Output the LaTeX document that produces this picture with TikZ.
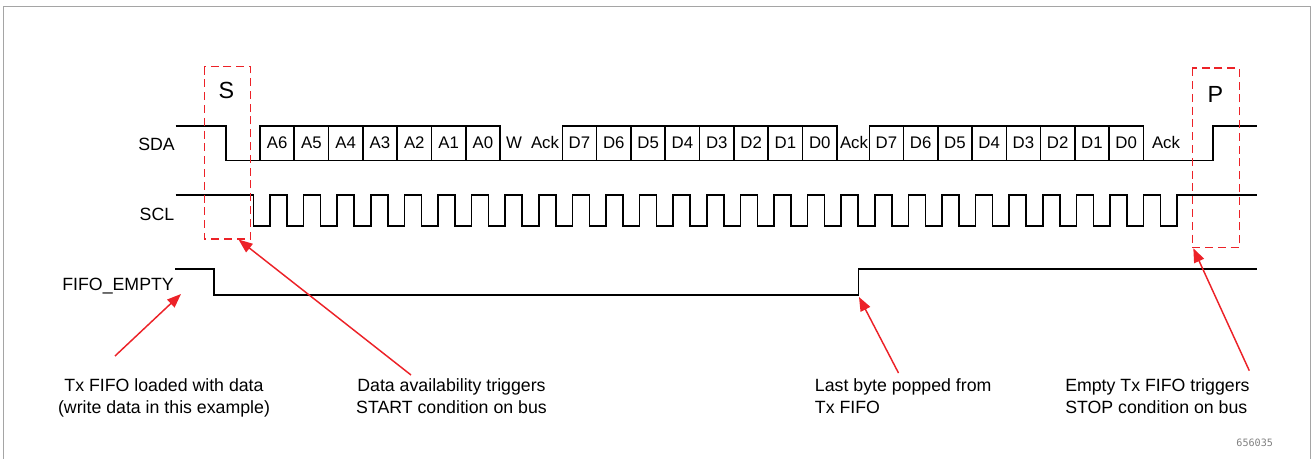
\documentclass[tikz,border=0pt]{standalone}
\usepackage{fontspec}
\setmainfont{Liberation Sans}
\newfontfamily\idfont{DejaVu Sans Mono}
\usetikzlibrary{arrows.meta}
\definecolor{calloutred}{RGB}{236,34,40}
\definecolor{framegray}{RGB}{165,165,165}

\begin{document}
\begin{tikzpicture}[x=0.75pt, y=-0.75pt,
    sig/.style={line width=1.2pt, line join=miter},
    window/.style={draw=calloutred, line width=1.2pt, dash pattern=on 6pt off 3.6pt},
    callout/.style={draw=calloutred, line width=1.1pt, -{Triangle[length=10.5pt, width=8pt]}, fill=calloutred},
    siglabel/.style={font=\fontsize{13.3}{16}\selectfont, inner sep=0pt, anchor=base east},
    bitlabel/.style={font=\fontsize{12.6}{15}\selectfont, inner sep=0pt, anchor=base},
    condlabel/.style={font=\fontsize{17.5}{21}\selectfont, inner sep=0pt, anchor=base},
    note/.style={font=\fontsize{13.3}{16.2}\selectfont, inner sep=0pt}
]
\useasboundingbox (0,0) rectangle (1314,459);
\draw[framegray, line width=0.9pt] (3.5,459) -- (3.5,6.5) -- (1310.5,6.5) -- (1310.5,459);

% --- signal names ---
\node (sda) [siglabel] at (175,150.7) {SDA};
\node (scl) [siglabel] at (174.5,220.7) {SCL};
\node (fifo) [siglabel] at (174,290.7) {FIFO\_EMPTY};

% --- SDA ---
\draw[sig] (175.7,126) -- (225.7,126) -- (225.7,160.7) -- (1212.7,160.7) -- (1212.7,126) -- (1257,126);
\foreach \t [count=\i from 0] in {A6,A5,A4,A3,A2,A1,A0}
  \draw[sig] ({260+34.29*\i},126) rectangle ({260+34.29*(\i+1)},160.7)
    node (addr\i) [bitlabel] at ({260+34.29*(\i+0.5)},148.3) {\t};
\foreach \t [count=\i from 0] in {D7,D6,D5,D4,D3,D2,D1,D0}
  \draw[sig] ({562.3+34.33*\i},126) rectangle ({562.3+34.33*(\i+1)},160.7)
    node (first\i) [bitlabel] at ({562.3+34.33*(\i+0.5)},148.3) {\t};
\foreach \t [count=\i from 0] in {D7,D6,D5,D4,D3,D2,D1,D0}
  \draw[sig] ({869.3+34.25*\i},126) rectangle ({869.3+34.25*(\i+1)},160.7)
    node (second\i) [bitlabel] at ({869.3+34.25*(\i+0.5)},148.3) {\t};
\node (wbit) [bitlabel] at (514,148.3) {W};
\node (ack1) [bitlabel] at (545,148.3) {Ack};
\node (ack2) [bitlabel] at (854,148.3) {Ack};
\node (ack3) [bitlabel] at (1166,148.3) {Ack};

% --- SCL ---
\draw[sig] (175.7,195) -- (253.3,195)
  foreach \k in {0,...,27} { -- ({253.3+33.6*\k},226) -- ({270+33.6*\k},226)
    -- ({270+33.6*\k},195) -- ({253.3+33.6*(\k+1)},195) }
  -- (1257,195);

% --- FIFO_EMPTY ---
\draw[sig] (175,269) -- (213.7,269) -- (213.7,295) -- (858.5,295) -- (858.5,269) -- (1257,269);

% --- start / stop windows ---
\draw[window] (204.3,66.7) rectangle (250.3,239);
\node (start) [condlabel] at (226.3,98.3) {S};
\draw[window] (1192.3,68.3) rectangle (1239.3,247.5);
\node (stop) [condlabel] at (1215.3,102.3) {P};

% --- notes (base = last line) ---
\node (loaded) [note, align=center, anchor=base] at (164,413.3) {Tx FIFO loaded with data\\(write data in this example)};
\node (trigstart) [note, align=center, anchor=base] at (451.5,413.3) {Data availability triggers\\START condition on bus};
\node (popped) [note, align=left, anchor=base west] at (814.7,413.3) {Last byte popped from\\Tx FIFO};
\node (trigstop) [note, align=left, anchor=base west] at (1065,413.3) {Empty Tx FIFO triggers\\STOP condition on bus};
\node (figid) [font=\idfont\fontsize{7.6}{9}\selectfont, text=gray, inner sep=0pt, anchor=base] at (1254.7,446.7) {656035};

% --- callouts ---
\coordinate (loadtail) at (115,356);
\coordinate (loadtip) at (181,294);
\coordinate (starttail) at (411,375);
\coordinate (starttip) at (238.5,239.5);
\coordinate (poptail) at (898.5,373);
\coordinate (poptip) at (859,297);
\coordinate (stoptail) at (1249.3,370.7);
\coordinate (stoptip) at (1193.3,248.3);
\draw[callout] (loadtail) -- (loadtip);
\draw[callout] (starttail) -- (starttip);
\draw[callout] (poptail) -- (poptip);
\draw[callout] (stoptail) -- (stoptip);
\end{tikzpicture}
\end{document}
